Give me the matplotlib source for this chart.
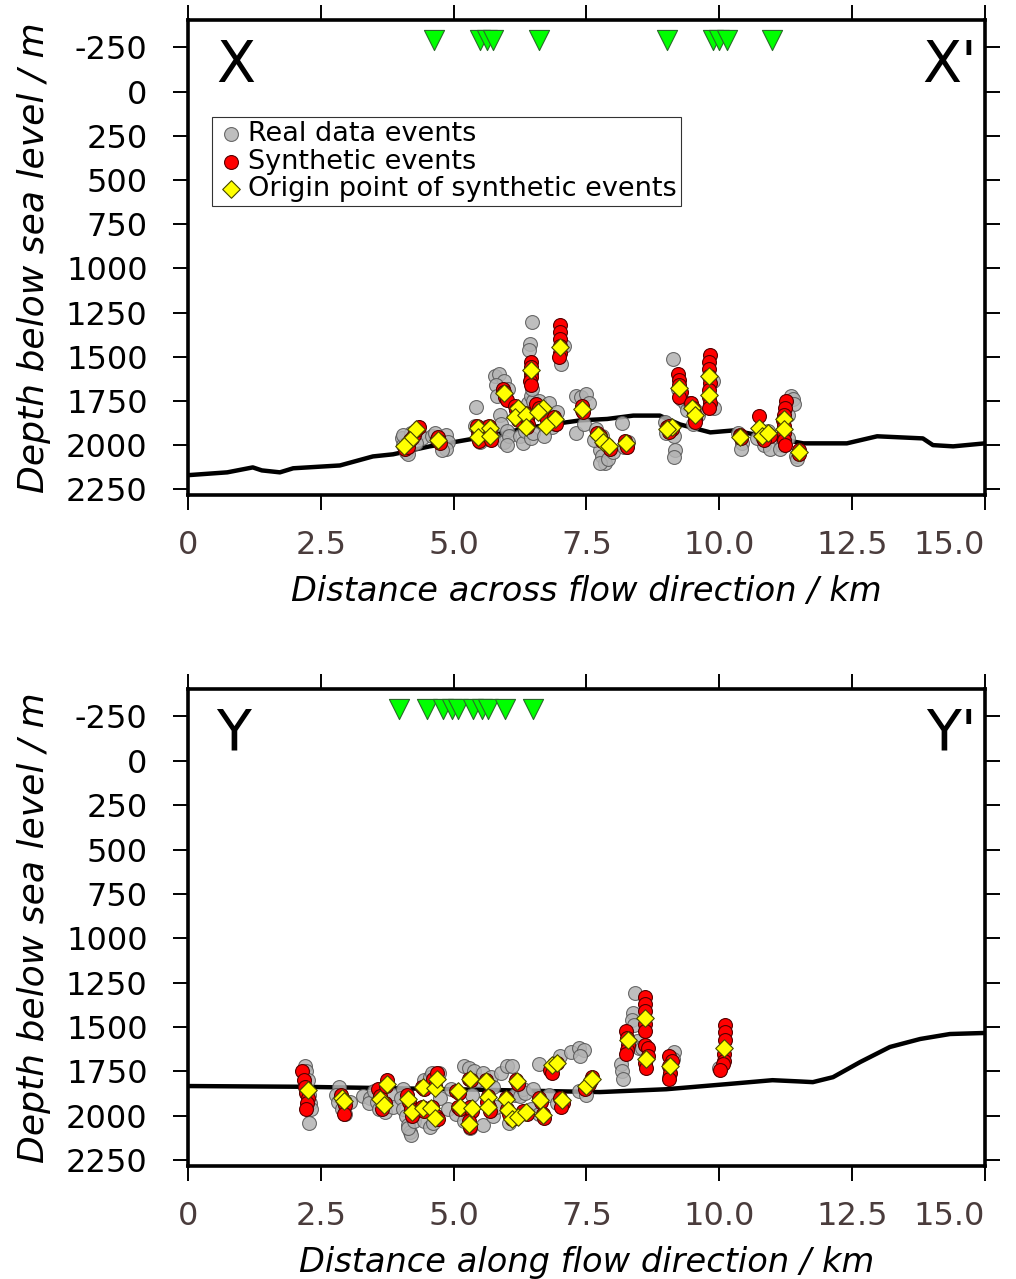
import matplotlib
matplotlib.use("Agg")
import matplotlib.pyplot as plt

# stations (green triangles) along each profile, km
stations_x_top = [4.63, 5.50, 5.63, 5.74, 6.61, 9.02, 9.88, 9.99, 10.15, 10.99]
stations_x_bot = [3.97, 4.50, 4.80, 4.97, 5.08, 5.36, 5.53, 5.65, 5.97, 6.49]
station_depth = -290

# interface line (km, m)
line_top_x = [0.0, 0.74, 1.22, 1.39, 1.73, 1.98, 2.86, 3.48, 3.86, 4.55, 5.5, 6.44,
              7.38, 7.89, 8.38, 8.88, 9.26, 9.83, 10.26, 11.58, 12.4, 12.97, 13.83,
              14.02, 14.4, 15.0]
line_top_d = [2170, 2154, 2126, 2143, 2154, 2131, 2115, 2064, 2052, 2007, 1957, 1900,
              1860, 1852, 1833, 1833, 1883, 1928, 1917, 1990, 1990, 1950, 1962,
              2000, 2007, 1990]
line_bot_x = [0.0, 2.1, 5.0, 7.75, 9.0, 10.15, 11.0, 11.5, 11.76, 12.14, 12.65, 13.21,
              13.78, 14.34, 15.0]
line_bot_d = [1832, 1836, 1850, 1866, 1850, 1821, 1799, 1806, 1810, 1782, 1697, 1612,
              1567, 1539, 1533]

# real data events (km, m)
top_real = [(4.02, 1960), (4.05, 2000), (4.10, 2040), (4.15, 2050), (4.20, 1930), (4.25, 1950),
            (4.35, 1930), (4.40, 1960), (4.05, 1940), (4.30, 1990),
            (4.60, 1950), (4.65, 1930), (4.85, 1940), (4.90, 1980), (4.85, 2020), (4.78, 2030),
            (5.40, 1890), (5.50, 1980), (5.60, 1900), (5.75, 1960), (5.42, 1782),
            (5.78, 1610), (5.85, 1600), (5.95, 1640), (5.80, 1660), (6.02, 1680), (5.82, 1720),
            (5.88, 1830), (5.90, 1880), (6.00, 1920), (5.95, 1980), (6.05, 1950), (6.00, 2000),
            (6.25, 1950), (6.30, 1990), (6.35, 1920), (6.45, 1960), (6.50, 1930), (6.40, 1760),
            (6.45, 1720), (6.50, 1750), (6.44, 1430), (6.42, 1460), (6.48, 1305), (6.47, 1680),
            (6.60, 1750), (6.80, 1760), (6.95, 1810), (6.85, 1900), (6.70, 1950), (6.90, 1880),
            (7.08, 1440), (7.02, 1540),
            (7.30, 1720), (7.40, 1730), (7.50, 1710), (7.55, 1760), (7.30, 1930), (7.45, 1880),
            (7.68, 1910), (7.75, 2030), (7.80, 2060), (7.85, 2100), (7.75, 2100), (7.90, 2080),
            (8.00, 2040), (7.65, 1970), (7.80, 1950),
            (8.17, 1877), (8.20, 2010), (8.28, 1985),
            (8.98, 1870), (9.00, 1930), (9.15, 1950), (9.13, 1511), (9.17, 2030), (9.15, 2070),
            (9.22, 1680), (9.28, 1740), (9.35, 1760), (9.40, 1800),
            (9.45, 1760), (9.55, 1800), (9.50, 1880), (9.60, 1830),
            (9.88, 1640), (9.90, 1790),
            (10.36, 1930), (10.42, 1990), (10.40, 2020),
            (10.78, 1950), (10.85, 2000), (10.95, 2020), (10.92, 1920), (10.70, 1960),
            (11.35, 1720), (11.38, 1740), (11.40, 1770), (11.30, 1830), (11.18, 2000),
            (11.15, 2020), (11.30, 1960), (11.45, 2060), (11.47, 2080)]

bot_real = [(2.20, 1720), (2.22, 1750), (2.25, 1800), (2.28, 1880), (2.30, 1930), (2.32, 1960),
            (2.28, 2040),
            (2.85, 1840), (2.78, 1880), (2.82, 1920), (2.95, 1990), (3.05, 1920), (2.90, 1960),
            (3.30, 1890), (3.42, 1900), (3.40, 1930), (3.50, 1860), (3.55, 1920),
            (3.60, 1960), (3.70, 1980), (3.85, 1880), (3.85, 1950),
            (4.05, 1850), (4.00, 1900), (4.05, 1960), (4.10, 2000), (4.15, 2050), (4.18, 2090),
            (4.20, 2110), (4.15, 2070), (4.25, 2030), (4.30, 1990),
            (4.45, 1800), (4.55, 1780), (4.60, 1760), (4.72, 1760), (4.45, 2030), (4.55, 2060),
            (4.62, 2040), (4.75, 1900),
            (4.95, 1850), (4.90, 1960), (5.05, 1990), (5.20, 1720), (5.28, 1730), (5.38, 1750),
            (5.35, 1880), (5.20, 2030), (5.30, 2070),
            (5.45, 1800), (5.55, 1760), (5.70, 1780), (5.75, 1840), (5.55, 2050), (5.75, 2000),
            (5.80, 1950),
            (5.90, 1760), (6.00, 1720), (6.10, 1720), (6.15, 1880), (6.05, 2040), (6.25, 1890),
            (6.30, 1850),
            (6.35, 1870), (6.50, 1850), (6.45, 1960), (6.60, 1990), (6.80, 1880), (6.95, 1930),
            (6.60, 1710),
            (7.00, 1660), (7.20, 1640), (7.35, 1620), (7.45, 1630), (7.38, 1660), (7.35, 1860),
            (7.50, 1880),
            (8.15, 1710), (8.17, 1750), (8.18, 1790), (8.41, 1307), (8.38, 1420), (8.35, 1460),
            (8.40, 1490), (8.45, 1580), (8.48, 1620),
            (8.55, 1620), (8.62, 1680),
            (9.15, 1640), (9.12, 1680), (9.05, 1780),
            (10.00, 1730)]

# synthetic events (km, m)
top_syn = [(4.08, 2020), (4.12, 1995), (4.15, 2010), (4.18, 1970), (4.22, 1960), (4.25, 1940),
           (4.30, 1915), (4.35, 1900),
           (4.68, 1965), (4.70, 1955), (4.72, 1975), (4.74, 1990),
           (5.44, 1890), (5.45, 1915), (5.46, 1940), (5.45, 1960), (5.47, 1975),
           (5.67, 1890), (5.68, 1910), (5.69, 1935), (5.68, 1955), (5.70, 1970),
           (5.92, 1690), (5.93, 1680), (5.95, 1700), (5.97, 1725), (6.00, 1745),
           (6.45, 1530), (6.45, 1560), (6.45, 1590), (6.46, 1615), (6.44, 1640), (6.45, 1660),
           (7.00, 1320), (7.00, 1360), (7.01, 1400), (7.00, 1440), (7.00, 1480), (6.99, 1500),
           (6.15, 1780), (6.18, 1800), (6.20, 1830), (6.22, 1860), (6.35, 1820), (6.38, 1850),
           (6.40, 1880), (6.38, 1900), (6.55, 1770), (6.60, 1790), (6.65, 1800), (6.70, 1830),
           (6.75, 1860), (6.88, 1840), (6.90, 1860), (6.92, 1880),
           (7.41, 1780), (7.42, 1800), (7.43, 1815),
           (7.70, 1930), (7.75, 1950), (7.80, 1975), (7.88, 2000), (7.95, 2020),
           (8.22, 1975), (8.24, 1995), (8.26, 2010),
           (9.02, 1900), (9.06, 1890), (9.10, 1910), (9.05, 1925),
           (9.22, 1600), (9.24, 1630), (9.25, 1660), (9.27, 1700), (9.25, 1730),
           (9.46, 1760), (9.50, 1790), (9.52, 1820), (9.55, 1850), (9.54, 1870),
           (9.82, 1490), (9.81, 1530), (9.81, 1570), (9.80, 1610), (9.82, 1650), (9.81, 1690),
           (9.80, 1730), (9.82, 1760), (9.81, 1790),
           (10.38, 1940), (10.40, 1960), (10.39, 1950),
           (10.74, 1835), (10.78, 1920), (10.82, 1960), (10.90, 1930), (10.95, 1950), (10.85, 1970),
           (11.25, 1750), (11.23, 1790), (11.22, 1830), (11.20, 1860), (11.22, 1890), (11.21, 1930),
           (11.22, 1970), (11.24, 2000),
           (11.49, 2030), (11.50, 2050)]

bot_syn = [(2.15, 1750), (2.18, 1800), (2.20, 1840), (2.22, 1870), (2.25, 1900), (2.24, 1930),
           (2.22, 1960),
           (2.88, 1880), (2.92, 1910), (2.95, 1940), (2.93, 1990),
           (3.58, 1850), (3.62, 1890), (3.70, 1930), (3.75, 1800), (3.72, 1830), (3.65, 1960),
           (4.12, 1880), (4.16, 1920), (4.20, 1960), (4.22, 2000),
           (4.40, 1840), (4.45, 1850), (4.40, 1950), (4.45, 1970),
           (4.62, 1790), (4.68, 1760), (4.65, 1830), (4.60, 1950), (4.67, 2000), (4.70, 2020),
           (5.05, 1860), (5.10, 1870), (5.08, 1950), (5.12, 1960),
           (5.28, 1790), (5.32, 1800), (5.30, 1950), (5.35, 1970), (5.28, 2030), (5.30, 2060),
           (5.60, 1800), (5.65, 1890), (5.62, 1920), (5.66, 1950), (5.68, 1970),
           (5.98, 1900), (6.00, 1960), (6.05, 1990), (6.10, 2020), (6.20, 2000), (6.30, 1970),
           (6.38, 1990), (6.18, 1800), (6.22, 1820),
           (6.60, 1900), (6.65, 1920), (6.68, 1990), (6.70, 2010), (7.00, 1900), (7.05, 1930),
           (7.02, 1950),
           (6.82, 1740), (6.88, 1710), (6.95, 1700), (6.85, 1760),
           (7.48, 1850), (7.55, 1820), (7.60, 1780), (7.58, 1800),
           (8.24, 1520), (8.26, 1560), (8.28, 1600), (8.26, 1630), (8.24, 1650),
           (8.60, 1330), (8.60, 1370), (8.60, 1410), (8.61, 1480), (8.60, 1520),
           (8.60, 1600), (8.65, 1620), (8.66, 1660), (8.60, 1700), (8.62, 1730),
           (9.05, 1660), (9.10, 1690), (9.05, 1720), (9.08, 1760), (9.05, 1790),
           (10.10, 1490), (10.10, 1530), (10.10, 1570), (10.09, 1650), (10.09, 1690),
           (10.07, 1710), (10.02, 1740)]

# origin points of synthetic events (km, m)
top_orig = [(4.30, 1911), (4.17, 1972), (4.07, 2006), (4.71, 1972), (5.45, 1902), (5.45, 1952),
            (5.68, 1902), (5.68, 1949), (5.95, 1704), (6.45, 1573), (7.00, 1445), (6.21, 1789),
            (6.16, 1840), (6.37, 1832), (6.37, 1896), (6.69, 1789), (6.59, 1814), (6.90, 1851),
            (6.73, 1893), (7.42, 1798), (7.72, 1945), (7.82, 1983), (7.93, 2006), (8.24, 1990),
            (9.25, 1676), (9.48, 1789), (9.54, 1832), (9.10, 1896), (9.01, 1911), (9.81, 1610),
            (9.81, 1715), (10.39, 1952), (10.75, 1902), (10.80, 1949), (10.92, 1934),
            (11.22, 1851), (11.22, 1907), (11.49, 2039)]

bot_orig = [(2.25, 1853), (2.90, 1898), (2.94, 1917), (3.75, 1819), (3.61, 1904), (3.69, 1941),
            (4.15, 1904), (4.21, 1979), (4.42, 1838), (4.65, 1844), (4.68, 1791), (4.42, 1956),
            (4.57, 1956), (4.65, 2013), (5.09, 1862), (5.30, 1794), (5.61, 1806), (5.12, 1951),
            (5.34, 1956), (5.29, 2045), (5.65, 1894), (5.65, 1951), (5.99, 1904), (6.03, 1969),
            (6.09, 2020), (6.22, 2007), (6.36, 1979), (6.19, 1806), (6.63, 1912), (6.68, 1994),
            (7.03, 1912), (6.85, 1715), (6.95, 1701), (7.50, 1832), (7.60, 1794), (8.28, 1574),
            (8.60, 1449), (8.62, 1678), (9.07, 1721), (10.09, 1618)]

yticks = [-250, 0, 250, 500, 750, 1000, 1250, 1500, 1750, 2000, 2250]
xticks = [0, 2.5, 5.0, 7.5, 10.0, 12.5, 15.0]
xtick_labels = ['0', '2.5', '5.0', '7.5', '10.0', '12.5', '15.0']

tick_fs = 23


def draw_panel(ax, stations, lx, ld, real, syn, orig, left_lab, right_lab, xlabel):
    ax.plot(lx, ld, color='black', lw=3.2, zorder=2, solid_capstyle='round')
    ax.scatter([p[0] for p in real], [p[1] for p in real], s=100, c='#b3b3b3',
               edgecolors='#555555', linewidths=0.8, alpha=0.85, zorder=3,
               label='Real data events')
    ax.scatter([p[0] for p in syn], [p[1] for p in syn], s=100, c='#ff0000',
               edgecolors='#550000', linewidths=0.8, zorder=4, label='Synthetic events')
    ax.scatter([p[0] for p in orig], [p[1] for p in orig], s=80, c='#ffff00', marker='D',
               edgecolors='#444400', linewidths=0.8, zorder=5,
               label='Origin point of synthetic events')
    ax.scatter(stations, [station_depth] * len(stations), s=210, marker='v', c='#00ff00',
               edgecolors='#2a6a2a', linewidths=0.8, zorder=6)

    ax.set_xlim(0, 15)
    ax.set_ylim(2282, -405)
    ax.set_yticks(yticks)
    ax.set_yticklabels([str(t) for t in yticks], fontsize=tick_fs)
    ax.set_xticks(xticks)
    ax.set_xticklabels(xtick_labels, fontsize=tick_fs, color='#4a3c3c')
    # keep the last x label inside the figure
    ax.get_xticklabels()[-1].set_horizontalalignment('right')
    ax.tick_params(axis='x', direction='out', length=11, width=1.4, top=True, pad=14)
    ax.tick_params(axis='y', direction='out', length=11, width=1.4, right=True, pad=18)
    for sp in ax.spines.values():
        sp.set_linewidth(2.6)
    ax.set_xlabel(xlabel, fontsize=24.2, style='italic', labelpad=10)
    ax.set_ylabel('Depth below sea level / m', fontsize=26, style='italic', labelpad=11)
    ax.text(0.035, 0.96, left_lab, transform=ax.transAxes, fontsize=41, va='top', ha='left')
    ax.text(0.99, 0.96, right_lab, transform=ax.transAxes, fontsize=41, va='top', ha='right')


fig = plt.figure(figsize=(10.16, 12.79), dpi=100)
ax1 = fig.add_axes([0.185, 0.613, 0.7845, 0.3714])
ax2 = fig.add_axes([0.185, 0.0884, 0.7845, 0.373])

draw_panel(ax1, stations_x_top, line_top_x, line_top_d, top_real, top_syn, top_orig,
           'X', "X'", 'Distance across flow direction / km')
draw_panel(ax2, stations_x_bot, line_bot_x, line_bot_d, bot_real, bot_syn, bot_orig,
           'Y', "Y'", 'Distance along flow direction / km')

leg = ax1.legend(loc='upper left', bbox_to_anchor=(0.03, 0.795), fontsize=19.5,
                 frameon=True, fancybox=False, borderpad=0.15, handletextpad=0.1,
                 labelspacing=0.05, borderaxespad=0, handlelength=1.1, scatterpoints=1)
leg.get_frame().set_edgecolor('black')
leg.get_frame().set_linewidth(0.8)

fig.savefig('out.png', dpi=100)
